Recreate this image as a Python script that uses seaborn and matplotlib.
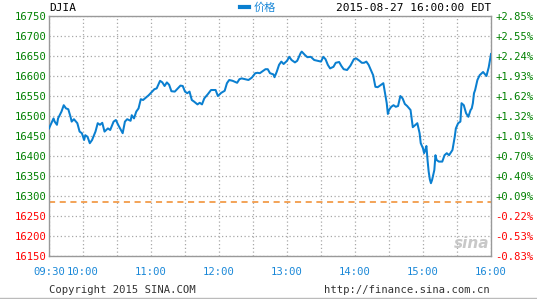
import numpy as np
import pandas as pd
import matplotlib
matplotlib.use("Agg")
import matplotlib.pyplot as plt
import seaborn as sns

symbol = "DJIA"
stamp = "2015-08-27 16:00:00 EDT"
series_name = "价格"
prev_close = 16285.51

times = ["09:30", "09:34", "09:35", "09:37", "09:38", "09:41", "09:43", "09:45", "09:47", "09:49",
         "09:50", "09:52", "09:55", "09:57", "09:59", "10:01", "10:02", "10:04", "10:06", "10:08",
         "10:11", "10:13", "10:15", "10:17", "10:19", "10:22", "10:24", "10:27", "10:29", "10:31",
         "10:35", "10:37", "10:39", "10:42", "10:43", "10:45", "10:47", "10:49", "10:51", "10:53",
         "10:56", "10:58", "11:01", "11:03", "11:05", "11:08", "11:10", "11:12", "11:14", "11:16",
         "11:18", "11:21", "11:23", "11:26", "11:28", "11:30", "11:32", "11:34", "11:36", "11:38",
         "11:41", "11:43", "11:45", "11:47", "11:50", "11:53", "11:57", "11:59", "12:02", "12:05",
         "12:07", "12:09", "12:12", "12:16", "12:18", "12:20", "12:23", "12:26", "12:29", "12:32",
         "12:34", "12:36", "12:38", "12:41", "12:43", "12:45", "12:48", "12:49", "12:51", "12:53",
         "12:55", "12:57", "13:00", "13:02", "13:04", "13:07", "13:09", "13:12", "13:13", "13:16",
         "13:18", "13:21", "13:24", "13:27", "13:30", "13:32", "13:34", "13:36", "13:38", "13:41",
         "13:43", "13:46", "13:48", "13:50", "13:53", "13:56", "13:59", "14:01", "14:04", "14:06",
         "14:08", "14:10", "14:12", "14:14", "14:16", "14:18", "14:20", "14:23", "14:25", "14:26",
         "14:28", "14:29", "14:30", "14:32", "14:34", "14:36", "14:38", "14:40", "14:42", "14:44",
         "14:46", "14:49", "14:50", "14:51", "14:53", "14:55", "14:57", "14:58", "15:00", "15:01",
         "15:02", "15:03", "15:04", "15:05", "15:06", "15:07", "15:08", "15:10", "15:11", "15:12",
         "15:14", "15:17", "15:19", "15:21", "15:23", "15:25", "15:26", "15:28", "15:29", "15:31",
         "15:33", "15:34", "15:36", "15:38", "15:40", "15:42", "15:43", "15:44", "15:45", "15:46",
         "15:48", "15:50", "15:53", "15:56", "15:58", "16:00"]
prices = [16469, 16494, 16486, 16478, 16494, 16511, 16527, 16519, 16517, 16498,
          16486, 16492, 16482, 16461, 16457, 16440, 16452, 16448, 16432, 16440,
          16461, 16482, 16478, 16483, 16461, 16469, 16465, 16486, 16490, 16478,
          16457, 16486, 16492, 16488, 16502, 16494, 16511, 16519, 16542, 16540,
          16547, 16552, 16561, 16567, 16569, 16588, 16584, 16575, 16584, 16578,
          16562, 16561, 16567, 16576, 16575, 16561, 16557, 16561, 16540, 16536,
          16529, 16533, 16529, 16544, 16554, 16565, 16565, 16550, 16558, 16563,
          16582, 16590, 16588, 16583, 16592, 16594, 16592, 16590, 16596, 16607,
          16608, 16607, 16611, 16617, 16617, 16607, 16604, 16597, 16611, 16628,
          16636, 16630, 16638, 16648, 16640, 16634, 16638, 16657, 16661, 16652,
          16647, 16648, 16640, 16638, 16636, 16648, 16642, 16628, 16619, 16623,
          16633, 16635, 16625, 16617, 16615, 16626, 16642, 16644, 16638, 16633,
          16633, 16636, 16628, 16615, 16602, 16573, 16572, 16578, 16582, 16565,
          16532, 16505, 16515, 16523, 16527, 16523, 16525, 16550, 16544, 16530,
          16525, 16515, 16494, 16472, 16477, 16482, 16457, 16432, 16419, 16407,
          16415, 16425, 16390, 16361, 16342, 16332, 16340, 16365, 16402, 16390,
          16386, 16386, 16402, 16407, 16402, 16411, 16415, 16448, 16469, 16482,
          16486, 16532, 16527, 16507, 16498, 16515, 16519, 16532, 16557, 16565,
          16590, 16602, 16610, 16600, 16622, 16655]

price_ticks = list(range(16150, 16751, 50))
time_ticks = ["09:30", "10:00", "11:00", "12:00", "13:00", "14:00", "15:00", "16:00"]
grid_times = ["09:30", "10:00", "10:30", "11:00", "11:30", "12:00", "12:30", "13:00", "13:30",
              "14:00", "14:30", "15:00", "15:30", "16:00"]


def to_min(s):
    h, m = s.split(":")
    return (int(h) - 9) * 60 + int(m) - 30


df = pd.DataFrame({"t": [to_min(s) for s in times], "price": prices})

W, H = 537, 299
fig = plt.figure(figsize=(W / 100, H / 100), dpi=100)
fig.patch.set_facecolor("white")
x0, x1, y0, y1 = 49, 491, 16, 256
ax = fig.add_axes([x0 / W, 1 - y1 / H, (x1 - x0) / W, (y1 - y0) / H])

mono = "DejaVu Sans Mono"
fs = 7.6
green = "#008000"
red = "#ff0000"
blue = "#0a7fd0"
tblue = "#1a88d8"

ax.set_xlim(0, 390)
ax.set_ylim(16150, 16750)

# grid
for g in grid_times:
    ax.axvline(to_min(g), color="#a8a8a8", lw=0.9, ls=(0, (1, 2)), zorder=1)
for p in price_ticks:
    ax.axhline(p, color="#a8a8a8", lw=0.9, ls=(0, (1, 2)), zorder=1)

ax.axhline(prev_close, color="#f08a2a", lw=1.1, ls=(0, (4, 3)), zorder=2)

sns.lineplot(data=df, x="t", y="price", ax=ax, color=blue, lw=1.45, zorder=3)

ax.set_xlabel("")
ax.set_ylabel("")
for sp in ax.spines.values():
    sp.set_color("#999999")
    sp.set_linewidth(1.0)

ax.set_yticks(price_ticks)
ax.set_yticklabels([str(p) for p in price_ticks], fontfamily=mono, fontsize=fs)
for lab, p in zip(ax.get_yticklabels(), price_ticks):
    lab.set_color(green if p >= prev_close else red)
ax.tick_params(axis="y", length=0, pad=2)

ax.set_xticks([to_min(t) for t in time_ticks])
ax.set_xticklabels(time_ticks, fontfamily=mono, fontsize=fs, color=tblue)
ax.tick_params(axis="x", length=0, pad=8)

ax2 = ax.twinx()
ax2.set_ylim(16150, 16750)
ax2.set_yticks(price_ticks)
pct = [(p / prev_close - 1) * 100 for p in price_ticks]
ax2.set_yticklabels([f"{v:+.2f}%" for v in pct], fontfamily=mono, fontsize=fs)
for lab, v in zip(ax2.get_yticklabels(), pct):
    lab.set_color(green if v >= 0 else red)
ax2.tick_params(axis="y", length=0, pad=3)
for sp in ax2.spines.values():
    sp.set_visible(False)

# header texts
fig.text(x0 / W, 1 - 8 / H, symbol, fontfamily=mono, fontsize=fs + 0.4, color="black",
         ha="left", va="center")
fig.text(x1 / W, 1 - 8 / H, stamp, fontfamily=mono, fontsize=fs + 0.4, color="black",
         ha="right", va="center")
fig.add_artist(plt.Line2D([240 / W, 249 / W], [1 - 7 / H, 1 - 7 / H], color=blue, lw=3))
fig.text(254 / W, 1 - 8 / H, series_name, family=["Noto Sans CJK SC", "DejaVu Sans"],
         fontsize=fs + 0.5, color=tblue, ha="left", va="center")

# footer
fig.text(49 / W, 1 - 290 / H, "Copyright 2015 SINA.COM", fontfamily=mono, fontsize=fs,
         color="#333333", ha="left", va="center")
fig.text(490 / W, 1 - 290 / H, "http://finance.sina.com.cn", fontfamily=mono, fontsize=fs,
         color="#333333", ha="right", va="center")
fig.add_artist(plt.Line2D([0, 1], [1 - 297.5 / H, 1 - 297.5 / H], color="#bbbbbb", lw=1))

# watermark
fig.text(472 / W, 1 - 244 / H, "sina", fontfamily="DejaVu Sans", fontsize=11,
         fontweight="bold", fontstyle="italic", color="#c8c8c8", ha="center", va="center",
         zorder=0)

fig.savefig("out.png", dpi=100, facecolor="white")
